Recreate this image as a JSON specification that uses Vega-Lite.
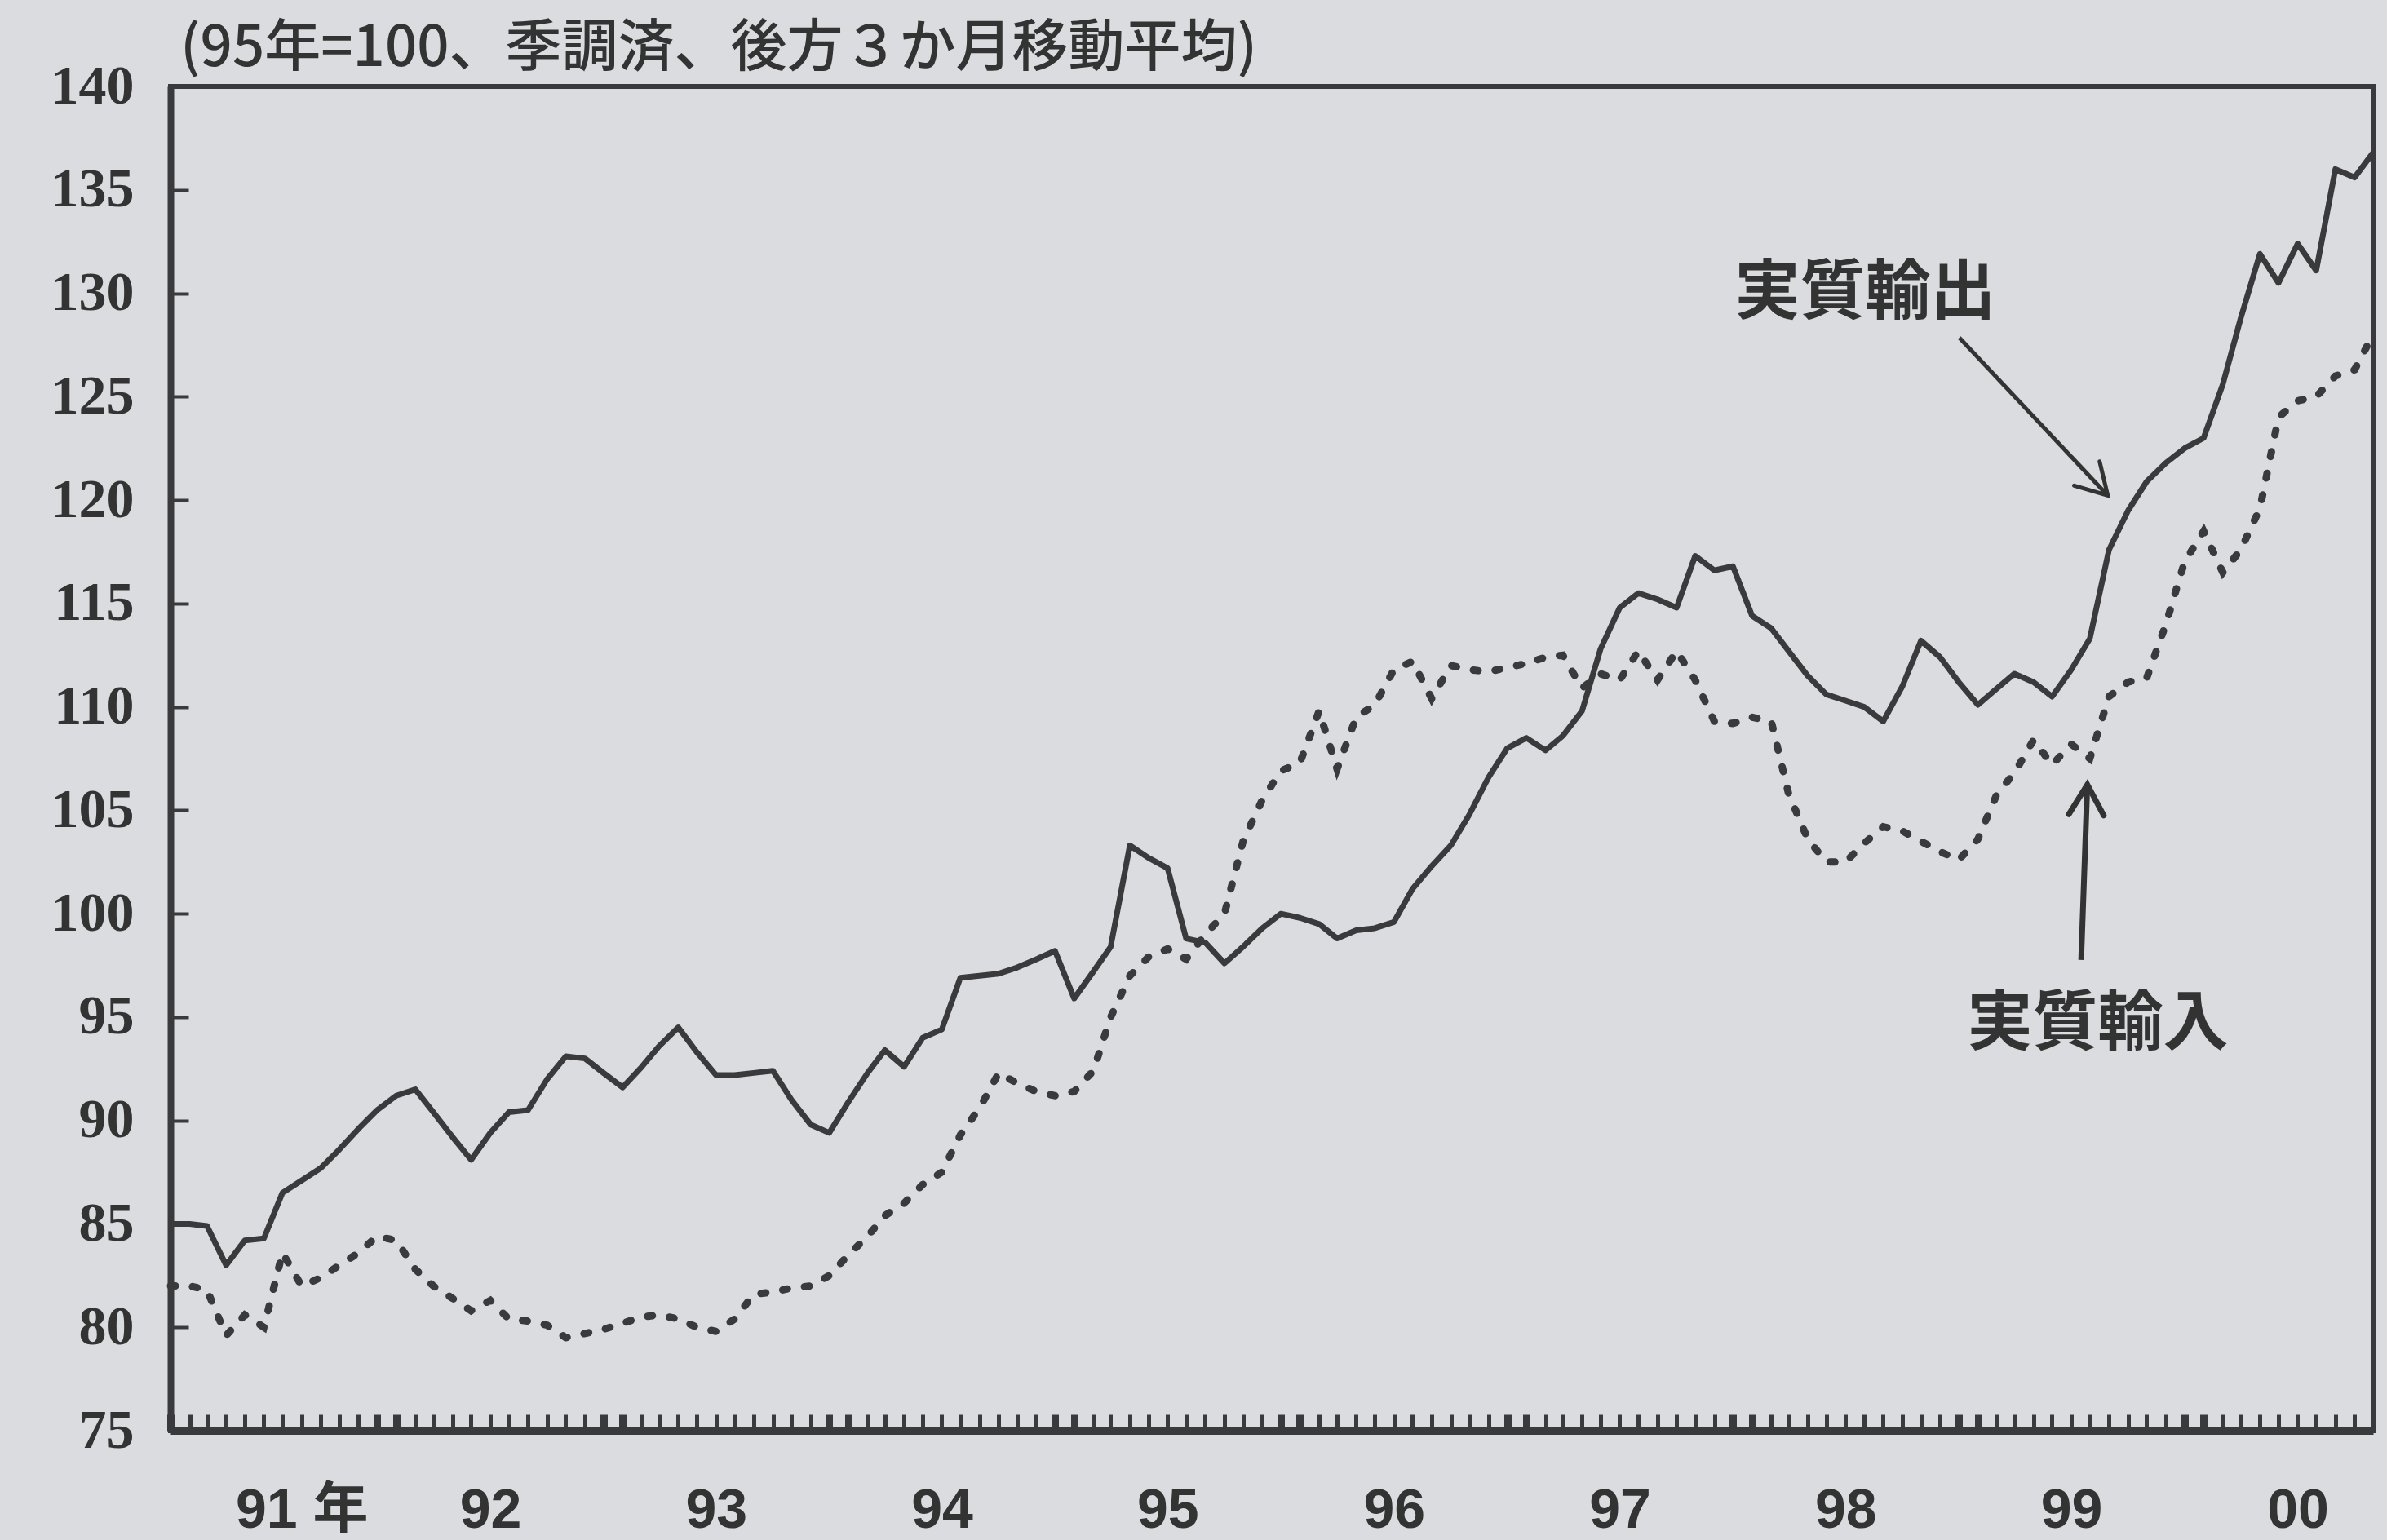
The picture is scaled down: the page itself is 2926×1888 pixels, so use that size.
{
  "$schema": "https://vega.github.io/schema/vega-lite/v6.json",
  "width": 2700,
  "height": 1648,
  "autosize": {"type": "none"},
  "padding": {"left": 209, "top": 106, "right": 17, "bottom": 134},
  "background": "#dadcdf",
  "config": {
    "view": {"stroke": "#3a3a3c", "strokeWidth": 6, "fill": "#dadcdf"},
    "font": "Noto Sans CJK JP",
    "axisY": {
      "grid": false,
      "domain": true,
      "domainColor": "#3a3a3c",
      "domainWidth": 8,
      "tickSize": -22,
      "tickWidth": 4,
      "tickColor": "#3a3a3c",
      "labelFont": "Liberation Serif",
      "labelFontWeight": "bold",
      "labelFontSize": 68,
      "labelColor": "#333333",
      "labelPadding": 67,
      "labelFlush": false,
      "labelOverlap": false,
      "labelBound": false
    }
  },
  "title": {
    "text": "(95年=100、季調済、後方３か月移動平均)",
    "anchor": "start",
    "frame": "group",
    "font": "Noto Sans CJK JP",
    "fontSize": 69,
    "fontWeight": 500,
    "color": "#333333",
    "offset": -23,
    "dx": 12
  },
  "datasets": {
    "trade": [
      {"date": "1991-01", "exports": 85.0, "imports": 82.0},
      {"date": "1991-02", "exports": 85.0, "imports": 82.0},
      {"date": "1991-03", "exports": 84.9, "imports": 81.8},
      {"date": "1991-04", "exports": 83.0, "imports": 79.6},
      {"date": "1991-05", "exports": 84.2, "imports": 80.6},
      {"date": "1991-06", "exports": 84.3, "imports": 80.0},
      {"date": "1991-07", "exports": 86.5, "imports": 83.6},
      {"date": "1991-08", "exports": 87.1, "imports": 82.0},
      {"date": "1991-09", "exports": 87.7, "imports": 82.4},
      {"date": "1991-10", "exports": 88.6, "imports": 83.0},
      {"date": "1991-11", "exports": 89.6, "imports": 83.6},
      {"date": "1991-12", "exports": 90.5, "imports": 84.4},
      {"date": "1992-01", "exports": 91.2, "imports": 84.2},
      {"date": "1992-02", "exports": 91.5, "imports": 82.8},
      {"date": "1992-03", "exports": 90.4, "imports": 82.0},
      {"date": "1992-04", "exports": 89.2, "imports": 81.4},
      {"date": "1992-05", "exports": 88.1, "imports": 80.8},
      {"date": "1992-06", "exports": 89.4, "imports": 81.3},
      {"date": "1992-07", "exports": 90.4, "imports": 80.4},
      {"date": "1992-08", "exports": 90.5, "imports": 80.3},
      {"date": "1992-09", "exports": 92.0, "imports": 80.1},
      {"date": "1992-10", "exports": 93.1, "imports": 79.5},
      {"date": "1992-11", "exports": 93.0, "imports": 79.7},
      {"date": "1992-12", "exports": 92.3, "imports": 79.9},
      {"date": "1993-01", "exports": 91.6, "imports": 80.2},
      {"date": "1993-02", "exports": 92.6, "imports": 80.5},
      {"date": "1993-03", "exports": 93.6, "imports": 80.6},
      {"date": "1993-04", "exports": 94.5, "imports": 80.4},
      {"date": "1993-05", "exports": 93.3, "imports": 80.0},
      {"date": "1993-06", "exports": 92.2, "imports": 79.8},
      {"date": "1993-07", "exports": 92.2, "imports": 80.4},
      {"date": "1993-08", "exports": 92.3, "imports": 81.6},
      {"date": "1993-09", "exports": 92.4, "imports": 81.7},
      {"date": "1993-10", "exports": 91.0, "imports": 81.9},
      {"date": "1993-11", "exports": 89.8, "imports": 82.0},
      {"date": "1993-12", "exports": 89.4, "imports": 82.5},
      {"date": "1994-01", "exports": 90.9, "imports": 83.5},
      {"date": "1994-02", "exports": 92.3, "imports": 84.4},
      {"date": "1994-03", "exports": 93.4, "imports": 85.4},
      {"date": "1994-04", "exports": 92.6, "imports": 86.0},
      {"date": "1994-05", "exports": 94.0, "imports": 86.9},
      {"date": "1994-06", "exports": 94.4, "imports": 87.5},
      {"date": "1994-07", "exports": 96.9, "imports": 89.3},
      {"date": "1994-08", "exports": 97.0, "imports": 90.6},
      {"date": "1994-09", "exports": 97.1, "imports": 92.3},
      {"date": "1994-10", "exports": 97.4, "imports": 91.8},
      {"date": "1994-11", "exports": 97.8, "imports": 91.4},
      {"date": "1994-12", "exports": 98.2, "imports": 91.2},
      {"date": "1995-01", "exports": 95.9, "imports": 91.4},
      {"date": "1995-02", "exports": 97.2, "imports": 92.4},
      {"date": "1995-03", "exports": 98.4, "imports": 95.0},
      {"date": "1995-04", "exports": 103.3, "imports": 97.0},
      {"date": "1995-05", "exports": 102.7, "imports": 97.9},
      {"date": "1995-06", "exports": 102.2, "imports": 98.3},
      {"date": "1995-07", "exports": 98.8, "imports": 97.8},
      {"date": "1995-08", "exports": 98.6, "imports": 99.0},
      {"date": "1995-09", "exports": 97.6, "imports": 100.0},
      {"date": "1995-10", "exports": 98.4, "imports": 103.5},
      {"date": "1995-11", "exports": 99.3, "imports": 105.5},
      {"date": "1995-12", "exports": 100.0, "imports": 106.9},
      {"date": "1996-01", "exports": 99.8, "imports": 107.3},
      {"date": "1996-02", "exports": 99.5, "imports": 109.8},
      {"date": "1996-03", "exports": 98.8, "imports": 107.0},
      {"date": "1996-04", "exports": 99.2, "imports": 109.5},
      {"date": "1996-05", "exports": 99.3, "imports": 110.1},
      {"date": "1996-06", "exports": 99.6, "imports": 111.8},
      {"date": "1996-07", "exports": 101.2, "imports": 112.2},
      {"date": "1996-08", "exports": 102.3, "imports": 110.4},
      {"date": "1996-09", "exports": 103.3, "imports": 112.0},
      {"date": "1996-10", "exports": 104.8, "imports": 111.8},
      {"date": "1996-11", "exports": 106.6, "imports": 111.7},
      {"date": "1996-12", "exports": 108.0, "imports": 111.9},
      {"date": "1997-01", "exports": 108.5, "imports": 112.1},
      {"date": "1997-02", "exports": 107.9, "imports": 112.4},
      {"date": "1997-03", "exports": 108.6, "imports": 112.5},
      {"date": "1997-04", "exports": 109.8, "imports": 110.9},
      {"date": "1997-05", "exports": 112.8, "imports": 111.6},
      {"date": "1997-06", "exports": 114.8, "imports": 111.3},
      {"date": "1997-07", "exports": 115.5, "imports": 112.7},
      {"date": "1997-08", "exports": 115.2, "imports": 111.3},
      {"date": "1997-09", "exports": 114.8, "imports": 112.7},
      {"date": "1997-10", "exports": 117.3, "imports": 111.3},
      {"date": "1997-11", "exports": 116.6, "imports": 109.3},
      {"date": "1997-12", "exports": 116.8, "imports": 109.2},
      {"date": "1998-01", "exports": 114.4, "imports": 109.5},
      {"date": "1998-02", "exports": 113.8, "imports": 109.3},
      {"date": "1998-03", "exports": 112.7, "imports": 105.8},
      {"date": "1998-04", "exports": 111.5, "imports": 103.6},
      {"date": "1998-05", "exports": 110.6, "imports": 102.5},
      {"date": "1998-06", "exports": 110.3, "imports": 102.5},
      {"date": "1998-07", "exports": 110.0, "imports": 103.4},
      {"date": "1998-08", "exports": 109.3, "imports": 104.2},
      {"date": "1998-09", "exports": 111.0, "imports": 104.0},
      {"date": "1998-10", "exports": 113.2, "imports": 103.5},
      {"date": "1998-11", "exports": 112.4, "imports": 103.0},
      {"date": "1998-12", "exports": 111.2, "imports": 102.6},
      {"date": "1999-01", "exports": 110.1, "imports": 103.6},
      {"date": "1999-02", "exports": 110.9, "imports": 105.8},
      {"date": "1999-03", "exports": 111.6, "imports": 106.8},
      {"date": "1999-04", "exports": 111.2, "imports": 108.4},
      {"date": "1999-05", "exports": 110.5, "imports": 107.2},
      {"date": "1999-06", "exports": 111.8, "imports": 108.2},
      {"date": "1999-07", "exports": 113.3, "imports": 107.5},
      {"date": "1999-08", "exports": 117.6, "imports": 110.5},
      {"date": "1999-09", "exports": 119.5, "imports": 111.2},
      {"date": "1999-10", "exports": 120.9, "imports": 111.4},
      {"date": "1999-11", "exports": 121.8, "imports": 114.0},
      {"date": "1999-12", "exports": 122.5, "imports": 117.0},
      {"date": "2000-01", "exports": 123.0, "imports": 118.5},
      {"date": "2000-02", "exports": 125.6, "imports": 116.5},
      {"date": "2000-03", "exports": 128.8, "imports": 117.6},
      {"date": "2000-04", "exports": 131.9, "imports": 119.6},
      {"date": "2000-05", "exports": 130.5, "imports": 124.0},
      {"date": "2000-06", "exports": 132.4, "imports": 124.8},
      {"date": "2000-07", "exports": 131.1, "imports": 125.0},
      {"date": "2000-08", "exports": 136.0, "imports": 126.0},
      {"date": "2000-09", "exports": 135.6, "imports": 126.3},
      {"date": "2000-10", "exports": 136.8, "imports": 128.0}
    ]
  },
  "encoding": {
    "x": {
      "field": "date",
      "type": "temporal",
      "scale": {
        "type": "utc",
        "domain": [
          {"year": 1991, "month": 1, "date": 1, "utc": true},
          {"year": 2000, "month": 10, "date": 1, "utc": true}
        ],
        "nice": false
      },
      "axis": {
        "title": null,
        "grid": false,
        "domain": true,
        "domainColor": "#3a3a3c",
        "domainWidth": 9,
        "tickCount": {"interval": "month", "step": 1},
        "ticks": true,
        "tickSize": -20,
        "tickColor": "#3a3a3c",
        "tickWidth": {
          "condition": {"test": "utcmonth(datum.value) == 0 || utcmonth(datum.value) == 11", "value": 9},
          "value": 5
        },
        "labelExpr": "utcmonth(datum.value) == 7 && utcyear(datum.value) == 1991 ? '91 年' : (utcmonth(datum.value) == 5 && utcyear(datum.value) > 1991 ? pad(toString(utcyear(datum.value) % 100), 2, '0', 'left') : '')",
        "labelFont": "Liberation Sans, Noto Sans CJK JP",
        "labelFontWeight": "bold",
        "labelFontSize": 68,
        "labelColor": "#333333",
        "labelPadding": 84,
        "labelOverlap": false,
        "labelFlush": false,
        "labelBound": false
      }
    }
  },
  "layer": [
    {
      "data": {"name": "trade"},
      "mark": {"type": "line", "color": "#3a3a3c", "strokeWidth": 7, "strokeJoin": "round"},
      "encoding": {
        "y": {
          "field": "exports",
          "type": "quantitative",
          "scale": {"domain": [75, 140], "nice": false, "zero": false},
          "axis": {"title": null, "values": [75, 80, 85, 90, 95, 100, 105, 110, 115, 120, 125, 130, 135, 140]}
        }
      }
    },
    {
      "data": {"name": "trade"},
      "mark": {"type": "line", "color": "#3a3a3c", "strokeWidth": 9, "strokeDash": [6, 21], "strokeCap": "round"},
      "encoding": {
        "y": {
          "field": "imports",
          "type": "quantitative",
          "axis": {"title": null, "values": [75, 80, 85, 90, 95, 100, 105, 110, 115, 120, 125, 130, 135, 140]}
        }
      }
    },
    {
      "data": {
        "values": [{"date": "1998-12-02", "value": 127.85, "date2": "1999-07-30", "value2": 120.22}],
        "format": {"parse": {"date": "date", "date2": "date"}}
      },
      "mark": {"type": "rule", "color": "#333333", "strokeWidth": 5},
      "encoding": {
        "x2": {"field": "date2"},
        "y": {
          "field": "value",
          "type": "quantitative",
          "axis": {"title": null, "values": [75, 80, 85, 90, 95, 100, 105, 110, 115, 120, 125, 130, 135, 140]}
        },
        "y2": {"field": "value2"}
      }
    },
    {
      "data": {
        "values": [{"date": "1999-07-30", "value": 120.22}],
        "format": {"parse": {"date": "date"}}
      },
      "mark": {"type": "point", "shape": "M -0.55 0.95 L 0 0 L 0.55 0.95", "size": 6100, "filled": false, "color": "#333333", "strokeWidth": 5, "angle": 136.5, "opacity": 1, "strokeCap": "round"},
      "encoding": {
        "y": {
          "field": "value",
          "type": "quantitative",
          "axis": {"title": null, "values": [75, 80, 85, 90, 95, 100, 105, 110, 115, 120, 125, 130, 135, 140]}
        }
      }
    },
    {
      "data": {
        "values": [{"date": "1999-06-17", "value": 97.76, "date2": "1999-06-27", "value2": 106.24}],
        "format": {"parse": {"date": "date", "date2": "date"}}
      },
      "mark": {"type": "rule", "color": "#333333", "strokeWidth": 7},
      "encoding": {
        "x2": {"field": "date2"},
        "y": {
          "field": "value",
          "type": "quantitative",
          "axis": {"title": null, "values": [75, 80, 85, 90, 95, 100, 105, 110, 115, 120, 125, 130, 135, 140]}
        },
        "y2": {"field": "value2"}
      }
    },
    {
      "data": {
        "values": [{"date": "1999-06-27", "value": 106.24}],
        "format": {"parse": {"date": "date"}}
      },
      "mark": {"type": "point", "shape": "M -0.55 0.95 L 0 0 L 0.55 0.95", "size": 6100, "filled": false, "color": "#333333", "strokeWidth": 7, "angle": 2, "opacity": 1, "strokeCap": "round"},
      "encoding": {
        "y": {
          "field": "value",
          "type": "quantitative",
          "axis": {"title": null, "values": [75, 80, 85, 90, 95, 100, 105, 110, 115, 120, 125, 130, 135, 140]}
        }
      }
    },
    {
      "data": {
        "values": [
          {"label": "実質輸出", "date": "1998-07-03", "value": 129.98},
          {"label": "実質輸入", "date": "1999-07-14", "value": 94.63}
        ],
        "format": {"parse": {"date": "date"}}
      },
      "mark": {"type": "text", "font": "Noto Sans CJK JP", "fontSize": 80, "fontWeight": "bold", "color": "#333333", "align": "center", "baseline": "middle"},
      "encoding": {
        "y": {
          "field": "value",
          "type": "quantitative",
          "axis": {"title": null, "values": [75, 80, 85, 90, 95, 100, 105, 110, 115, 120, 125, 130, 135, 140]}
        },
        "text": {"field": "label"}
      }
    }
  ]
}
